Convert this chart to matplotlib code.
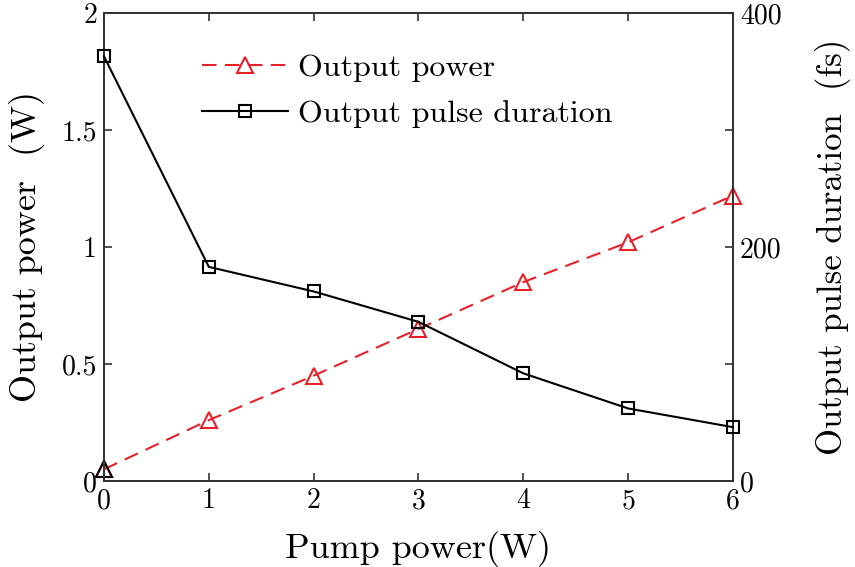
import matplotlib
matplotlib.use("Agg")
import matplotlib.pyplot as plt

# ---------------------------------------------------------------------------
# Data
# ---------------------------------------------------------------------------
pump_power = [0, 1, 2, 3, 4, 5, 6]
output_power = [0.05, 0.26, 0.45, 0.65, 0.85, 1.02, 1.22]
pulse_duration = [363, 183, 162, 136, 92, 62, 46]

left_ticks = [0, 0.5, 1, 1.5, 2]
left_labels = ["0", "0.5", "1", "1.5", "2"]
right_ticks = [0, 100, 200, 300, 400]
right_labels = ["0", "", "200", "", "400"]

RED = "#e8202a"
SPINE = "#333333"

plt.rcParams["font.family"] = ["cmr10", "DejaVu Serif"]
plt.rcParams["axes.formatter.use_mathtext"] = True
plt.rcParams["mathtext.fontset"] = "cm"

fig = plt.figure(figsize=(8.55, 5.67), dpi=100)
ax = fig.add_axes([0.1216, 0.1517, 0.7357, 0.8254])
ax2 = ax.twinx()

l1, = ax.plot(pump_power, output_power, color=RED, ls=(0, (7, 4)), lw=1.5,
              marker="^", ms=11, mfc="none", mec=RED, mew=1.5,
              label="Output power", clip_on=False, zorder=3)
# first point marker is drawn in black in the original
ax.plot(pump_power[:1], output_power[:1], ls="none", marker="^", ms=11,
        mfc="none", mec="black", mew=1.5, clip_on=False, zorder=4)

l2, = ax2.plot(pump_power, pulse_duration, color="black", lw=1.5,
               marker="s", ms=8, mfc="none", mec="black", mew=1.5,
               label="Output pulse duration", clip_on=False, zorder=3)

ax.set_xlim(0, 6)
ax.set_ylim(0, 2)
ax2.set_ylim(0, 400)

ax.set_xticks(pump_power)
ax.set_xticklabels([str(v) for v in pump_power])
ax.set_yticks(left_ticks)
ax.set_yticklabels(left_labels)
ax2.set_yticks(right_ticks)
ax2.set_yticklabels(right_labels)

for a in (ax, ax2):
    for s in a.spines.values():
        s.set_color(SPINE)
        s.set_linewidth(1.3)
    a.tick_params(direction="in", length=6, width=1.2, color=SPINE,
                  labelsize=20, pad=5)
ax.tick_params(axis="x", top=True)

ax.set_xlabel("Pump power(W)", fontsize=26, labelpad=12)
ax.set_ylabel("Output power  (W)", fontsize=26, labelpad=12)
ax2.set_ylabel("Output pulse duration  (fs)", fontsize=25, labelpad=24)

leg = ax2.legend(handles=[l1, l2], loc="upper left",
                 bbox_to_anchor=(0.11, 0.975), frameon=False, fontsize=23,
                 handlelength=2.7, handletextpad=0.3, labelspacing=0.55)

fig.savefig("out.png", dpi=100)
